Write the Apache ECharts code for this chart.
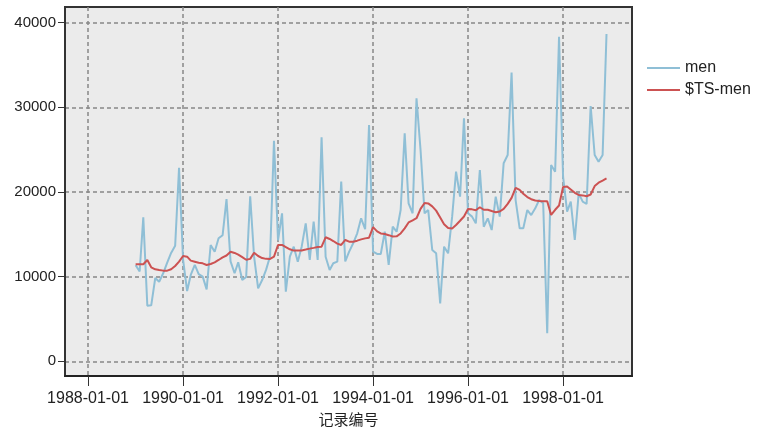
<!DOCTYPE html>
<html>
<head>
<meta charset="utf-8">
<script src="https://cdn.jsdelivr.net/npm/echarts@6/dist/echarts.min.js"></script>
<style>
  html, body { margin: 0; padding: 0; background: #ffffff; }
  #chart { width: 757px; height: 430px; }
</style>
</head>
<body>
<div id="chart"></div>
<script>
// Monthly series, January 1989 .. December 1998
const startYear = 1989;
const startMonth = 0;

// Observed men's sales
const men = [
  11358, 10606, 16999, 6564, 6608, 9839, 9398, 10396, 11664, 12806, 13636, 22850,
  12000, 8300, 10200, 11400, 10300, 10000, 8500, 13740, 12950, 14530, 14900, 19170,
  11800, 10400, 11700, 9600, 9950, 19500, 12360, 8620, 9600, 10800, 12400, 26060,
  14300, 17480, 8220, 12360, 13540, 11770, 13540, 16300, 11970, 16500, 11970, 26460,
  12360, 10790, 11580, 11770, 21220, 11800, 12950, 13940, 15120, 16890, 15600, 27920,
  12950, 12680, 12680, 15310, 11380, 15900, 15310, 17870, 26930, 18660, 17480, 31070,
  24960, 17480, 17870, 13150, 12760, 6850, 13540, 12760, 17090, 22400, 19450, 28700,
  17480, 17090, 16300, 22600, 15900, 16890, 15510, 19450, 17090, 23390, 24370, 34100,
  19050, 15710, 15710, 17870, 17280, 18070, 19050, 18660, 3310, 23190, 22400, 38350,
  21810, 17680, 18860, 14330, 19840, 18860, 18580, 30160, 24370, 23580, 24370, 38660
];

// Model fitted values
const tsMen = [
  11460, 11460, 11460, 11970, 11100, 10870, 10790, 10710, 10710, 10870, 11260, 11770,
  12440, 12360, 11890, 11770, 11650, 11570, 11380, 11500, 11690, 11970, 12280, 12500,
  12950, 12800, 12600, 12300, 12000, 12100, 12830, 12440, 12200, 12100, 12090, 12360,
  13740, 13740, 13500, 13230, 13080, 13080, 13100, 13200, 13310, 13400, 13500, 13540,
  14650, 14450, 14210, 13900, 13740, 14330, 14130, 14130, 14250, 14400, 14520, 14600,
  15850, 15350, 15100, 15040, 14900, 14750, 14760, 15100, 15700, 16400, 16650, 16900,
  18000, 18700, 18650, 18300, 17800, 17000, 16200, 15750, 15700, 16100, 16600, 17100,
  18000, 17950, 17850, 18200, 17900, 17900, 17750, 17600, 17700, 18000, 18600, 19300,
  20500, 20250, 19800, 19400, 19150, 19000, 18950, 18900, 18900, 17300, 17900, 18400,
  20600, 20650, 20300, 19900, 19650, 19600, 19500, 19700, 20700, 21100, 21350, 21600
];

// Axis ticks
const xTickDates = ['1988-01-01', '1990-01-01', '1992-01-01', '1994-01-01', '1996-01-01', '1998-01-01'];
const yTicks = [0, 10000, 20000, 30000, 40000];

function toTime(str) {
  const p = str.split('-').map(Number);
  return +new Date(p[0], p[1] - 1, p[2]);
}
function pad(n) { return (n < 10 ? '0' : '') + n; }
function fmtDate(t) {
  const d = new Date(t);
  return d.getFullYear() + '-' + pad(d.getMonth() + 1) + '-' + pad(d.getDate());
}

const monthTimes = men.map((_, i) => +new Date(startYear, startMonth + i, 1));
const menData = men.map((v, i) => [monthTimes[i], v]);
const tsData = tsMen.map((v, i) => [monthTimes[i], v]);
const xTicks = xTickDates.map(toTime);

const textFont = "'Liberation Sans', Arial, sans-serif";

const chart = echarts.init(document.getElementById('chart'), null, { renderer: 'canvas' });
chart.setOption({
  animation: false,
  backgroundColor: '#ffffff',
  grid: {
    left: 65, top: 7, width: 567, height: 369,
    show: true,
    backgroundColor: '#ebebeb',
    borderColor: '#333333',
    borderWidth: 2,
    containLabel: false,
    outerBoundsMode: 'none'
  },
  legend: {
    orient: 'vertical',
    left: 642,
    top: 55,
    itemGap: 6,
    itemWidth: 33,
    itemHeight: 2,
    icon: 'rect',
    textStyle: { fontFamily: textFont, fontSize: 16, color: '#222222' },
    data: ['men', '$TS-men']
  },
  xAxis: {
    type: 'value',
    scale: true,
    min: toTime('1987-07-08'),
    max: toTime('1999-06-15'),
    name: '记录编号',
    nameLocation: 'middle',
    nameGap: 36,
    nameTextStyle: { fontFamily: "'Noto Sans CJK SC', sans-serif", fontSize: 15, color: '#222222' },
    axisLine: { show: true, onZero: false, lineStyle: { color: '#222222', width: 2 } },
    axisTick: { show: true, length: 10, customValues: xTicks, lineStyle: { color: '#333333', width: 1 } },
    axisLabel: {
      customValues: xTicks,
      formatter: fmtDate,
      fontFamily: textFont, fontSize: 16, color: '#222222', margin: 15,
      hideOverlap: false
    },
    splitLine: { show: true, lineStyle: { color: '#888888', type: [4, 3], width: 1.5 } }
  },
  yAxis: {
    type: 'value',
    min: -1737,
    max: 41855,
    axisLine: { show: true, onZero: false, lineStyle: { color: '#333333', width: 2 } },
    axisTick: { show: true, length: 7, customValues: yTicks, lineStyle: { color: '#333333', width: 1 } },
    axisLabel: {
      customValues: yTicks,
      formatter: v => String(v),
      fontFamily: textFont, fontSize: 15, color: '#222222', margin: 9
    },
    splitLine: { show: true, lineStyle: { color: '#888888', type: [4, 3], width: 1.5 } }
  },
  series: [
    {
      name: 'men',
      type: 'line',
      data: menData,
      showSymbol: false,
      color: '#8fbfd6',
      lineStyle: { color: '#8fbfd6', width: 2 },
      z: 2
    },
    {
      name: '$TS-men',
      type: 'line',
      data: tsData,
      showSymbol: false,
      color: '#cc5252',
      lineStyle: { color: '#cc5252', width: 2 },
      z: 3
    }
  ]
});
</script>
</body>
</html>
